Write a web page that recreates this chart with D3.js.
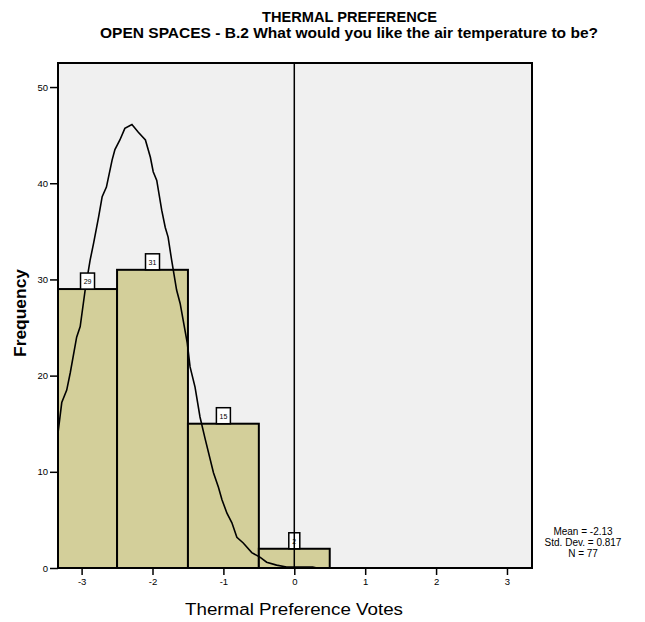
<!DOCTYPE html>
<html><head><meta charset="utf-8">
<script src="https://cdn.jsdelivr.net/npm/d3@7"></script>
<style>body{margin:0;background:#fff}svg{display:block}text{font-family:"Liberation Sans",Arial,sans-serif}</style>
</head><body>
<svg id="c" width="645" height="622"></svg>
<script>
const categories = [-3, -2, -1, 0, 1, 2, 3];
const tickLabels = ["-3", "-2", "-1", "0", "1", "2", "3"];
const barValues = [29, 31, 15, 2, 0, 0, 0];
const yTicks = [0, 10, 20, 30, 40, 50];
const curveX = [-3.337,-3.28,-3.21,-3.16,-3.07,-3.02,-2.95,-2.88,-2.83,-2.76,-2.71,-2.65,-2.57,-2.53,-2.46,-2.39,-2.29,-2.20,-2.10,-2.03,-1.99,-1.94,-1.87,-1.82,-1.78,-1.73,-1.66,-1.61,-1.51,-1.47,-1.40,-1.33,-1.26,-1.14,-1.07,-1.02,-0.95,-0.88,-0.81,-0.72,-0.60,-0.48,-0.39,-0.25,-0.11,0.26,0.32];
const curveY = [13.8,17.2,18.5,20.3,24.0,25.1,28.9,32.0,33.8,36.5,38.6,39.6,42.4,43.5,44.5,45.7,46.1,45.3,44.5,42.7,41.2,40.3,37.2,35.4,34.4,32.0,28.9,27.5,23.4,20.9,18.8,15.7,13.5,9.9,8.4,7.1,5.7,4.7,3.2,2.6,1.6,1.1,0.6,0.3,0.1,0.1,0];
const statLines = ["Mean = -2.13", "Std. Dev. = 0.817", "N = 77"];
const titleLines = ["THERMAL PREFERENCE", "OPEN SPACES - B.2 What would you like the air temperature to be?"];
const xTitle = "Thermal Preference Votes";
const yTitle = "Frequency";
const refLine = 0;

const svg = d3.select("#c");
const L = 58, R = 532, T = 63, B = 568;
const x = d3.scaleLinear().domain([-3.333, 3.353]).range([L, R]);
const y = d3.scaleLinear().domain([0, 52.5]).range([B, T]);

svg.append("rect").attr("x", L).attr("y", T).attr("width", R - L).attr("height", B - T).attr("fill", "#f0f0f0");

svg.append("clipPath").attr("id", "clip").append("rect").attr("x", L).attr("y", T).attr("width", R - L).attr("height", B - T);
const g = svg.append("g").attr("clip-path", "url(#clip)");

const bars = categories.map((c, i) => ({c, v: barValues[i], lab: tickLabels[i]})).filter(d => d.v > 0);
g.selectAll("rect.bar").data(bars).enter().append("rect")
  .attr("x", d => x(d.c - 0.5)).attr("y", d => y(d.v))
  .attr("width", d => x(d.c + 0.5) - x(d.c - 0.5)).attr("height", d => y(0) - y(d.v))
  .attr("fill", "#d3cf9a").attr("stroke", "#000").attr("stroke-width", 2);

// value boxes
bars.forEach(d => {
  const x0 = Math.max(x(d.c - 0.5), L), x1 = Math.min(x(d.c + 0.5), R);
  const cx = (x0 + x1) / 2;
  const w = d.v >= 10 ? 14 : 11;
  svg.append("rect").attr("x", cx - w / 2).attr("y", y(d.v) - 16).attr("width", w).attr("height", 16)
    .attr("fill", "#fff").attr("stroke", "#000").attr("stroke-width", 1.5);
  svg.append("text").attr("x", cx).attr("y", y(d.v) - 5).attr("text-anchor", "middle")
    .attr("font-size", 7).attr("fill", "#000").text(d.v);
});

// curve
const line = d3.line().x((d, i) => x(curveX[i])).y(d => y(d));
g.append("path").attr("d", line(curveY)).attr("fill", "none").attr("stroke", "#000").attr("stroke-width", 1.6);

// reference line
svg.append("line").attr("x1", x(refLine)).attr("x2", x(refLine)).attr("y1", T).attr("y2", B).attr("stroke", "#000").attr("stroke-width", 1.5);

// frame
svg.append("rect").attr("x", L).attr("y", T).attr("width", R - L).attr("height", B - T).attr("fill", "none").attr("stroke", "#000").attr("stroke-width", 2);

// y axis
const ya = svg.append("g").attr("transform", `translate(${L},0)`)
  .call(d3.axisLeft(y).tickValues(yTicks).tickSize(8).tickPadding(2).tickFormat(d3.format("d")));
ya.select(".domain").remove();
ya.selectAll("line").attr("stroke-width", 1.5);
ya.selectAll("text").attr("font-size", 9.5).attr("font-family", "Liberation Sans, Arial");

// x axis
const xa = svg.append("g").attr("transform", `translate(0,${B})`)
  .call(d3.axisBottom(x).tickValues(categories).tickSize(7).tickPadding(3).tickFormat((d, i) => tickLabels[i]));
xa.select(".domain").remove();
xa.selectAll("line").attr("stroke-width", 1.5);
xa.selectAll("text").attr("font-size", 9.5).attr("font-family", "Liberation Sans, Arial");

// titles
svg.append("text").attr("x", 349.5).attr("y", 22).attr("text-anchor", "middle").attr("font-size", 14).attr("font-weight", "bold")
  .attr("textLength", 175).attr("lengthAdjust", "spacingAndGlyphs").text(titleLines[0]);
svg.append("text").attr("x", 349).attr("y", 38).attr("text-anchor", "middle").attr("font-size", 14).attr("font-weight", "bold")
  .attr("textLength", 498).attr("lengthAdjust", "spacingAndGlyphs").text(titleLines[1]);
svg.append("text").attr("x", 294).attr("y", 615).attr("text-anchor", "middle").attr("font-size", 16)
  .attr("textLength", 218).attr("lengthAdjust", "spacingAndGlyphs").text(xTitle);
svg.append("text").attr("transform", "translate(26,313) rotate(-90)").attr("text-anchor", "middle").attr("font-size", 16).attr("font-weight", "bold")
  .attr("textLength", 88).attr("lengthAdjust", "spacingAndGlyphs").text(yTitle);

// stats
statLines.forEach((s, i) => {
  svg.append("text").attr("x", 583).attr("y", 535 + i * 11).attr("text-anchor", "middle").attr("font-size", 10).text(s);
});
</script>
</body></html>
